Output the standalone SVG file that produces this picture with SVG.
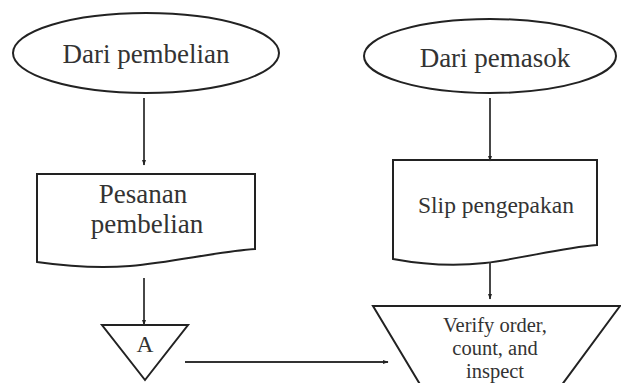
<svg xmlns="http://www.w3.org/2000/svg" width="621" height="383" viewBox="0 0 621 383">
  <defs>
    <marker id="arrow" viewBox="0 0 10 10" refX="9" refY="5" markerWidth="6" markerHeight="6" orient="auto" markerUnits="userSpaceOnUse">
      <path d="M0,1.5 L10,5 L0,8.5 Z" fill="#222"/>
    </marker>
  </defs>
  <style>
    .shape { fill: #fff; stroke: #222; stroke-width: 2; }
    .label { fill: #333; }
    .conn { fill: none; stroke: #333; stroke-width: 1.8; marker-end: url(#arrow); }
  </style>
  <rect width="621" height="383" fill="#fff"/>

  <g id="dari-pembelian">
    <ellipse class="shape" cx="146" cy="53" rx="133" ry="40"/>
    <text class="label" x="146" y="63" text-anchor="middle" font-size="27" font-family="Liberation Serif" style="font-family:'Liberation Serif',serif">Dari pembelian</text>
  </g>

  <g id="dari-pemasok">
    <ellipse class="shape" cx="490" cy="56" rx="126" ry="37"/>
    <text class="label" x="495" y="67" text-anchor="middle" font-size="27" font-family="Liberation Serif" style="font-family:'Liberation Serif',serif">Dari pemasok</text>
  </g>

  <g id="pesanan-pembelian">
    <path class="shape" d="M37,174 H255 V249 C215,252 175,262 130,266 C95,269 65,266 37,262 Z"/>
    <text class="label" x="143" y="203" text-anchor="middle" font-size="27" font-family="Liberation Serif" style="font-family:'Liberation Serif',serif">Pesanan</text>
    <text class="label" x="147" y="233" text-anchor="middle" font-size="27" font-family="Liberation Serif" style="font-family:'Liberation Serif',serif">pembelian</text>
  </g>

  <g id="slip-pengepakan">
    <path class="shape" d="M393,160 H597 V245 C560,248 525,258 485,263 C450,267 420,264 393,259 Z"/>
    <text class="label" x="496" y="213" text-anchor="middle" font-size="23.5" font-family="Liberation Serif" style="font-family:'Liberation Serif',serif">Slip pengepakan</text>
  </g>

  <g id="connector-a">
    <path class="shape" d="M102,325 H188 L145,380 Z"/>
    <text class="label" x="145" y="352" text-anchor="middle" font-size="23.5" font-family="Liberation Serif" style="font-family:'Liberation Serif',serif">A</text>
  </g>

  <g id="verify">
    <path class="shape" d="M373,306 H620 L561,386 H421 Z"/>
    <text class="label" x="495" y="332" text-anchor="middle" font-size="20.5" font-family="Liberation Serif" style="font-family:'Liberation Serif',serif">Verify order,</text>
    <text class="label" x="495" y="355" text-anchor="middle" font-size="20.5" font-family="Liberation Serif" style="font-family:'Liberation Serif',serif">count, and</text>
    <text class="label" x="495" y="378" text-anchor="middle" font-size="20.5" font-family="Liberation Serif" style="font-family:'Liberation Serif',serif">inspect</text>
  </g>

  <g id="connectors">
    <line class="conn" x1="144" y1="98" x2="144" y2="165"/>
    <line class="conn" x1="490" y1="98" x2="490" y2="161"/>
    <line class="conn" x1="144" y1="278" x2="144" y2="325"/>
    <line class="conn" x1="490" y1="262" x2="490" y2="299"/>
    <line class="conn" x1="185" y1="362" x2="388" y2="362"/>
  </g>
</svg>
